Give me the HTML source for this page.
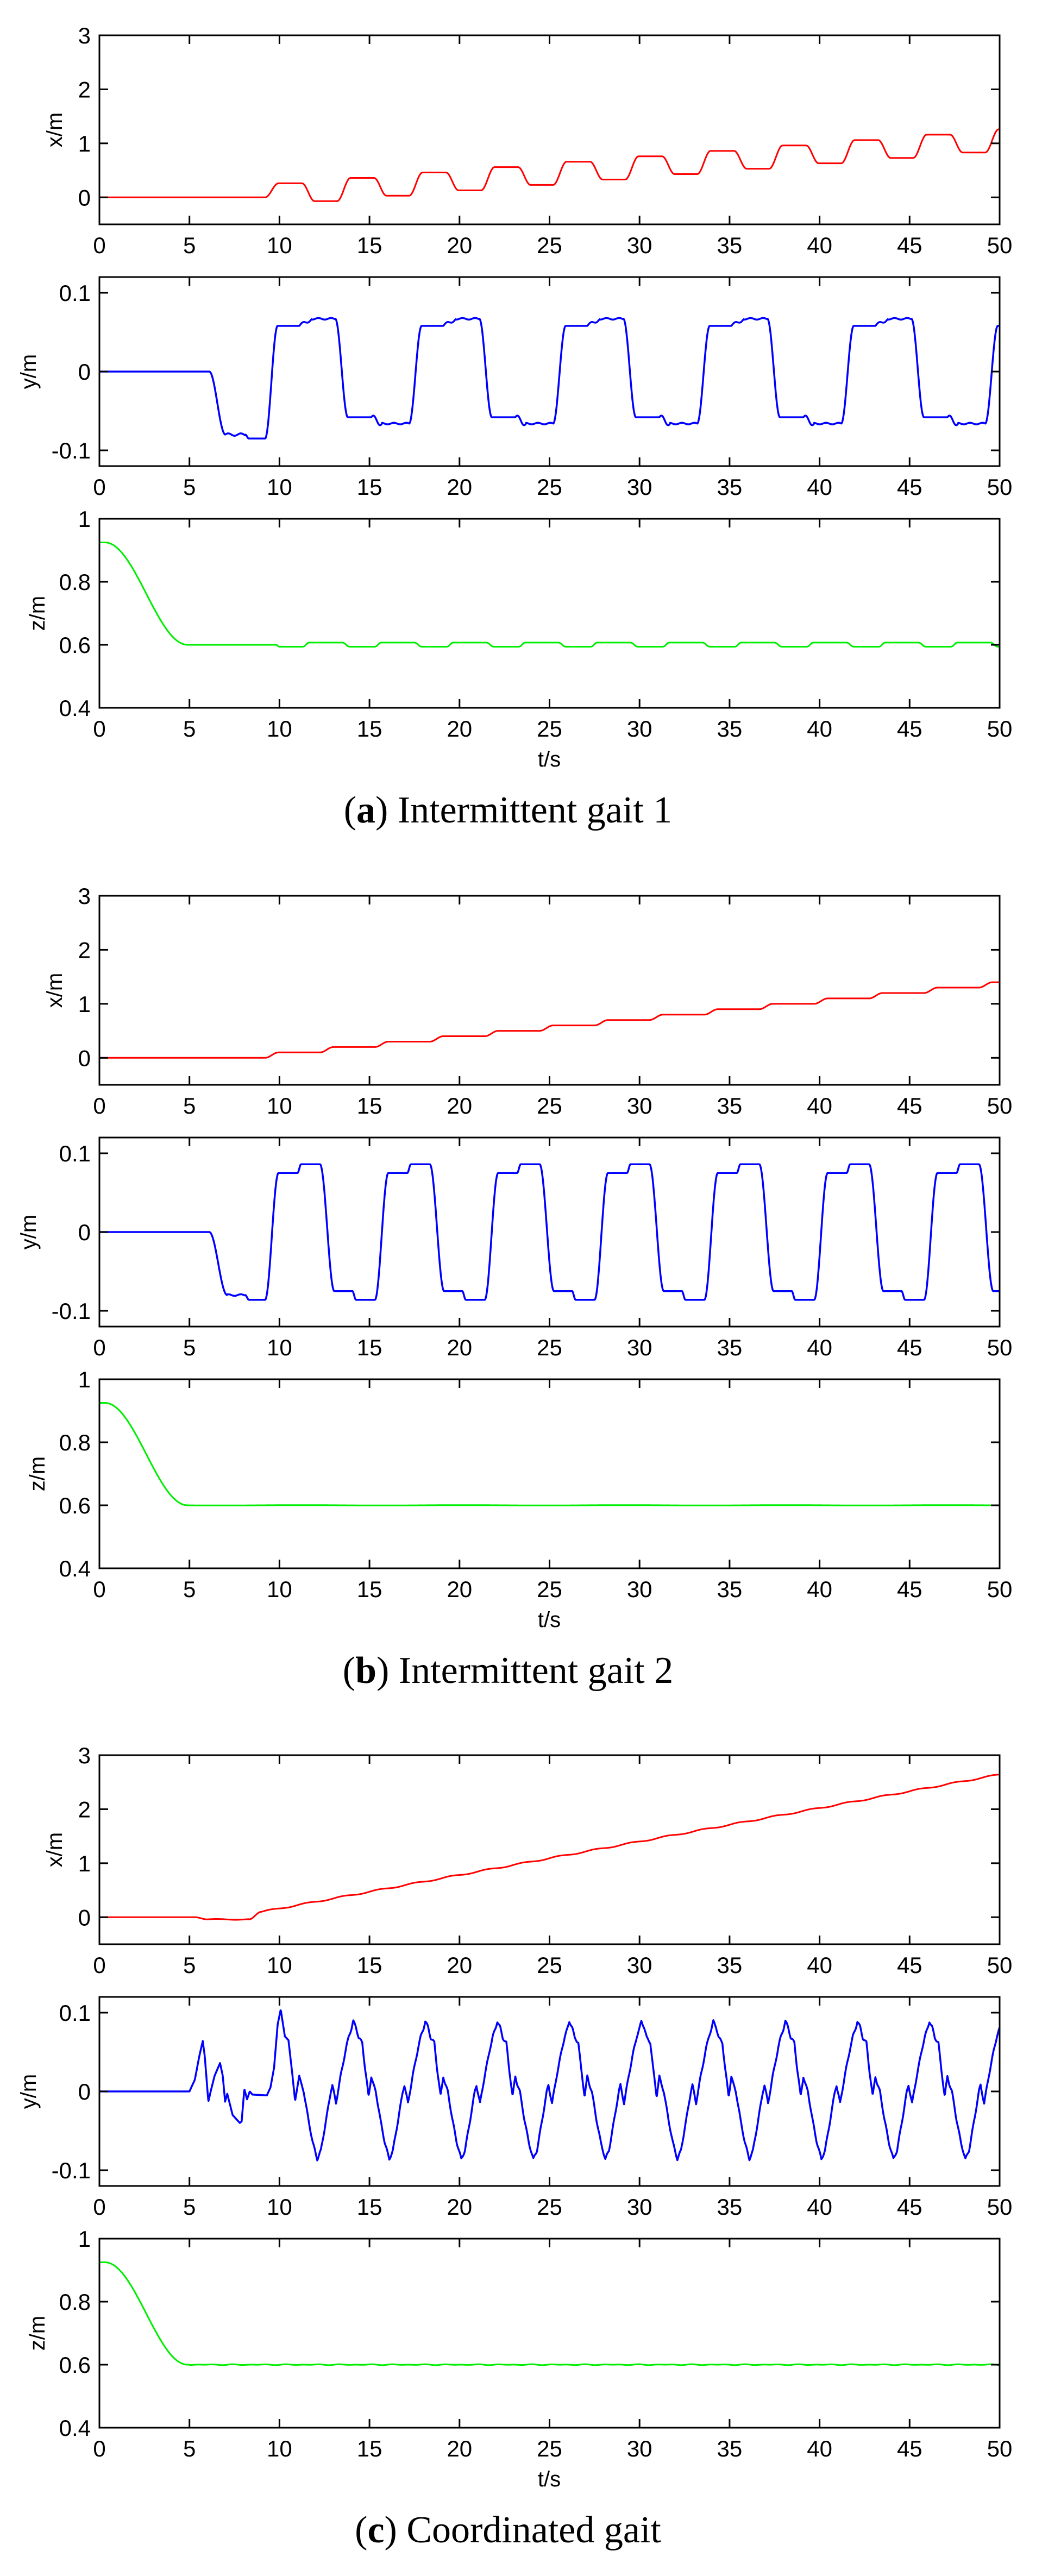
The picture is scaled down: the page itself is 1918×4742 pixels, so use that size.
<!DOCTYPE html>
<html><head><meta charset="utf-8"><style>
html,body{margin:0;padding:0;background:#fff;}
svg{display:block;}
text{font-family:"Liberation Sans",Arial,sans-serif;fill:#000;}
.cap{font-family:"Liberation Serif","Times New Roman",serif;}
</style></head><body>
<svg id="s" width="1918" height="4742" viewBox="0 0 1918 4742" xmlns="http://www.w3.org/2000/svg">
<g id="axes"></g>
<g id="static">
<text class="cap" x="935" y="1514" font-size="70" text-anchor="middle">(<tspan font-weight="bold">a</tspan>) Intermittent gait 1</text>
<text class="cap" x="935" y="3098" font-size="70" text-anchor="middle">(<tspan font-weight="bold">b</tspan>) Intermittent gait 2</text>
<text class="cap" x="935" y="4680" font-size="70" text-anchor="middle">(<tspan font-weight="bold">c</tspan>) Coordinated gait</text>
</g>
</svg>
<script>
(function(){
var NS="http://www.w3.org/2000/svg";
var g=document.getElementById("axes");
var L=183,R=1840,H=348;
var tops=[65,510,955];
var offs=[0,1584,3166];
var ranges=[[-0.5,3],[-0.12,0.12],[0.4,1]];
var yt=[[[0,"0"],[1,"1"],[2,"2"],[3,"3"]],[[-0.1,"-0.1"],[0,"0"],[0.1,"0.1"]],[[0.4,"0.4"],[0.6,"0.6"],[0.8,"0.8"],[1,"1"]]];
var ylab=["x/m","y/m","z/m"],ylx=[100,52,68];
var cols=["#ff0000","#0000ff","#00ee00"];
function el(n,a,t){var e=document.createElementNS(NS,n);for(var k in a)e.setAttribute(k,a[k]);if(t!=null)e.textContent=t;g.appendChild(e);return e;}
function X(t){return L+(R-L)*t/50;}
function s(u){return u<=0?0:u>=1?1:(1-Math.cos(Math.PI*u))/2;}
function lerp(pts,t){if(t<=pts[0][0])return pts[0][1];for(var i=1;i<pts.length;i++){if(t<=pts[i][0]){var a=pts[i-1],b=pts[i];var u=(t-a[0])/(b[0]-a[0]);return a[1]+(b[1]-a[1])*u;}}return pts[pts.length-1][1];}
function zs(t){if(t<0.3)return 0.925;if(t<5)return 0.6+0.325*(1-s((t-0.3)/4.6));return 0.6;}
function xa(t){if(t<9.2)return 0;var k=Math.floor((t-9.2)/4),tau=t-9.2-4*k;var lp=k==0?0:-0.07+0.1*(k-1),hi=0.26+0.1*k,lo=-0.07+0.1*k;
 if(tau<0.75)return lp+(hi-lp)*s(tau/0.75);if(tau<2.05)return hi;if(tau<2.75)return hi+(lo-hi)*s((tau-2.05)/0.7);return lo;}
function ya(t){if(t<6.1)return 0;if(t<7.0)return -0.08*s((t-6.1)/0.9);
 if(t<9.2){var v=-0.08+0.0015*Math.sin(t*9);if(t>8.1)v=-0.08-0.005*s((t-8.1)/0.2);return v;}
 var k=Math.floor((t-9.2)/8),tau=t-9.2-8*k;
 var start=k==0?-0.085:-0.066;
 if(tau<0.7)return start+(0.058-start)*s(tau/0.7);
 if(tau<1.9)return 0.058;
 if(tau<2.6){var u=(tau-1.9)/0.7;return 0.058+0.009*s(u)+0.003*Math.sin(u*Math.PI*2);}
 if(tau<3.9)return 0.067+0.001*Math.sin(tau*9);
 if(tau<4.6)return 0.067-0.125*s((tau-3.9)/0.7);
 if(tau<5.9)return -0.058;
 if(tau<6.5){var u2=(tau-5.9)/0.6;return -0.058-0.008*s(u2)+0.003*Math.sin(u2*Math.PI*2);}
 return -0.066+0.001*Math.sin(tau*9);}
function za(t){if(t<5)return zs(t);if(t<9.8)return 0.6;if(t<10)return 0.6-0.006*s((t-9.8)/0.2);
 var tau=((t-10)%4+4)%4;var lo=0.594,hi=0.607;
 if(tau<1.3)return lo;if(tau<1.65)return lo+(hi-lo)*s((tau-1.3)/0.35);if(tau<3.5)return hi;if(tau<3.9)return hi+(lo-hi)*s((tau-3.5)/0.4);return lo;}
function xb(t){var v=0;for(var k=0;k<14;k++){var t0=9.2+3.05*k;if(t>t0)v+=0.1*s((t-t0)/0.75);}return v;}
function yb(t){if(t<6.1)return 0;if(t<7.1)return -0.08*s((t-6.1)/1.0);
 if(t<9.2){if(t<8.1)return -0.08+0.001*Math.sin(t*9);return -0.08-0.006*s((t-8.1)/0.2);}
 var k=Math.floor((t-9.2)/6.1),tau=t-9.2-6.1*k;
 if(tau<0.75)return -0.086+0.161*s(tau/0.75);
 if(tau<1.8)return 0.075;
 if(tau<2.0)return 0.075+0.011*s((tau-1.8)/0.2);
 if(tau<3.05)return 0.086;
 if(tau<3.85)return 0.086-0.161*s((tau-3.05)/0.8);
 if(tau<4.85)return -0.075;
 if(tau<5.05)return -0.075-0.011*s((tau-4.85)/0.2);
 return -0.086;}
function zb(t){return zs(t)+(t>5?0.0005*Math.sin(t*0.7):0);}
function xc(t){if(t<5.3)return 0;if(t<6)return -0.04*s((t-5.3)/0.7);
 if(t<8.3)return -0.04+0.008*Math.sin((t-6)*3);
 if(t<9)return -0.04+0.14*s((t-8.3)/0.7);
 return 0.1+0.062*(t-9)+0.012*Math.sin(2*Math.PI*(t-9)/2);}
var early=[[0,0],[5.0,0],[5.3,0.015],[5.55,0.045],[5.74,0.064],[5.85,0.045],[6.05,-0.013],[6.2,0.002],[6.4,0.02],[6.7,0.036],[6.85,0.02],[6.98,-0.013],[7.1,-0.003],[7.4,-0.03],[7.8,-0.04],[7.9,-0.038],[8.05,0.003],[8.2,-0.01],[8.35,0.0],[8.5,-0.004],[9.3,-0.005],[9.5,0.005],[9.7,0.03],[9.9,0.085],[10.07,0.104],[10.3,0.07],[10.5,0.065],[10.7,0.025],[10.87,-0.012],[11.1,0.02]];
var tpl=[[0,0.089],[0.15,0.082],[0.3,0.068],[0.5,0.062],[0.65,0.03],[0.85,-0.006],[1.0,0.019],[1.1,0.01],[1.25,0.0],[1.5,-0.035],[1.75,-0.065],[2.0,-0.086],[2.2,-0.075],[2.5,-0.035],[2.75,0.0],[2.84,0.008],[3.04,-0.015],[3.3,0.02],[3.6,0.055],[3.75,0.07],[3.9,0.08],[4,0.089]];
function yc(t){if(t<=11.1)return lerp(early,t);var tau=((t-10.1)%4+4)%4;return lerp(tpl,tau)+0.0015*Math.sin(t*17);}
function zc(t){return zs(t)+(t>5?0.0015*Math.sin(t*5.3)*Math.sin(t*1.1):0);}
var F=[[xa,ya,za],[xb,yb,zb],[xc,yc,zc]];
for(var p=0;p<3;p++){for(var q=0;q<3;q++){
 var top=tops[q]+offs[p],bot=top+H,rg=ranges[q];
 var Y=(function(bot,rg){return function(v){return bot-(v-rg[0])/(rg[1]-rg[0])*H;};})(bot,rg);
 var d="",f=F[p][q];
 for(var i=0;i<=2500;i++){var t=i*0.02;var v=f(t);d+=(i?"L":"M")+X(t).toFixed(1)+" "+Y(v).toFixed(1);}
 el("path",{d:d,fill:"none",stroke:cols[q],"stroke-width":q==1?3.5:3,"stroke-linejoin":"round"});
 el("rect",{x:L,y:top,width:R-L,height:H,fill:"none",stroke:"#000","stroke-width":3});
 for(var k=0;k<=10;k++){var x=X(k*5);
  el("line",{x1:x,y1:top,x2:x,y2:top+16,stroke:"#000","stroke-width":3});
  el("line",{x1:x,y1:bot,x2:x,y2:bot-16,stroke:"#000","stroke-width":3});
  el("text",{x:x,y:bot+53,"font-size":42,"text-anchor":"middle"},String(k*5));}
 yt[q].forEach(function(a){var y=Y(a[0]);
  el("line",{x1:L,y1:y,x2:L+16,y2:y,stroke:"#000","stroke-width":3});
  el("line",{x1:R,y1:y,x2:R-16,y2:y,stroke:"#000","stroke-width":3});
  el("text",{x:167,y:y+15,"font-size":42,"text-anchor":"end"},a[1]);});
 var cy=(top+bot)/2;
 el("text",{x:ylx[q],y:cy,"font-size":40,"text-anchor":"middle",transform:"rotate(-90 "+ylx[q]+" "+cy+")",dy:"14"},ylab[q]);
 if(q==2)el("text",{x:1011,y:bot+108,"font-size":40,"text-anchor":"middle"},"t/s");
}}
})();
</script>
</body></html>
